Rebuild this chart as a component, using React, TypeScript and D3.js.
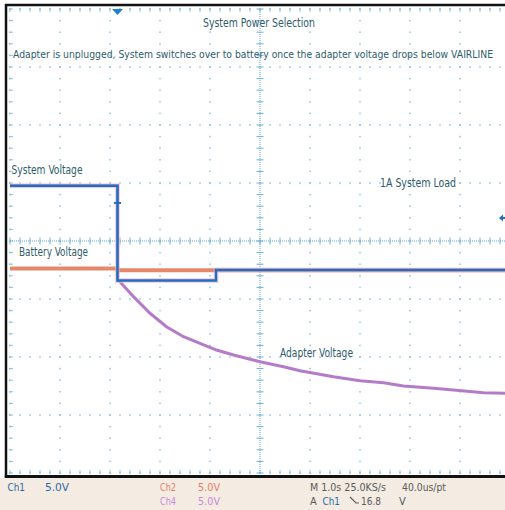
import React from "react";
import * as d3 from "d3";

// Time in seconds (1 s/div), voltages in volts on screen (5 V/div, 0 = screen centre)
const systemT = [0, 2.15, 2.15, 4.12, 4.12, 10];
const systemV = [4.77, 4.77, -3.41, -3.41, -2.5, -2.5];

const batteryT = [0, 2.15, 2.15, 10];
const batteryV = [-2.37, -2.37, -2.53, -2.53];

const adapterT = [0, 2.15, 2.15, 2.2, 2.47, 2.8, 3.13, 3.47, 3.8, 4.13, 4.47, 5.0, 5.47, 5.8, 6.47, 7.0, 7.47, 7.87, 8.47, 8.87, 9.47, 9.9, 10];
const adapterV = [4.77, 4.77, -3.41, -3.51, -4.8, -6.23, -7.39, -8.25, -8.82, -9.4, -9.83, -10.41, -10.84, -11.18, -11.7, -12.04, -12.22, -12.5, -12.7, -12.84, -13.08, -13.13, -13.15];

const triggerT = 2.15;
const triggerMarkV = 3.28;
const triggerLevelV = 1.98;

const title = "System Power Selection";
const subtitle = "Adapter is unplugged, System switches over to battery once the adapter voltage drops below VAIRLINE";
const annotations = [
  { text: "System Voltage", t: 0.03, v: 5.77, w: 71 },
  { text: "Battery Voltage", t: 0.18, v: -1.3, w: 69 },
  { text: "1A System Load", t: 7.4, v: 4.65, w: 76 },
  { text: "Adapter Voltage", t: 5.4, v: -10.0, w: 73 },
];

export default function App() {
  const W = 505, H = 510;
  const x = d3.scaleLinear().domain([0, 10]).range([10, 510]);
  const y = d3.scaleLinear().domain([-20, 20]).range([473, 9]);
  const line = d3.line<[number, number]>().x(d => x(d[0])).y(d => y(d[1]));
  const zip = (a: number[], b: number[]) => a.map((t, i) => [t, b[i]] as [number, number]);

  const dotColor = "#8cc2de";
  const dots: JSX.Element[] = [];
  d3.range(0, 11).forEach(i => {
    if (i === 5) return;
    d3.range(0, 41).forEach(k => {
      dots.push(<rect key={`v${i}-${k}`} x={x(i) - 0.75} y={y(-20 + k) - 0.75} width={1.5} height={1.5} fill={dotColor} />);
    });
  });
  d3.range(0, 9).forEach(j => {
    if (j === 4) return;
    d3.range(0, 51).forEach(k => {
      dots.push(<rect key={`h${j}-${k}`} x={x(k / 5) - 0.75} y={y(-20 + j * 5) - 0.75} width={1.5} height={1.5} fill={dotColor} />);
    });
  });
  const ticks: JSX.Element[] = [];
  d3.range(0, 51).forEach(k => {
    const xx = x(k / 5);
    ticks.push(<line key={`tt${k}`} x1={xx} x2={xx} y1={8} y2={12} stroke={dotColor} strokeWidth={1} />);
    ticks.push(<line key={`tb${k}`} x1={xx} x2={xx} y1={470} y2={474} stroke={dotColor} strokeWidth={1} />);
    ticks.push(<line key={`tc${k}`} x1={xx} x2={xx} y1={y(0) - 3.5} y2={y(0) + 3.5} stroke="#6fb0d4" strokeWidth={1} />);
  });
  d3.range(0, 41).forEach(k => {
    const yy = y(-20 + k);
    ticks.push(<line key={`tl${k}`} x1={9} x2={13} y1={yy} y2={yy} stroke={dotColor} strokeWidth={1} />);
    ticks.push(<line key={`tcv${k}`} x1={x(5) - 3.5} x2={x(5) + 3.5} y1={yy} y2={yy} stroke="#6fb0d4" strokeWidth={1} />);
  });

  const textColor = "#2f5c6b";
  const font = "'Liberation Sans Narrow', 'DejaVu Sans Condensed', 'Liberation Sans', sans-serif";
  const tx = (t: number) => x(t);

  return (
    <svg width={W} height={H} style={{ position: "absolute", left: 0, top: 0 }} fontFamily={font}>
      <rect x={0} y={0} width={W} height={H} fill="#ffffff" />
      <rect x={0} y={478} width={W} height={32} fill="#f4ece2" />
      {dots}
      {ticks}
      <line x1={x(0)} x2={x(10)} y1={y(0)} y2={y(0)} stroke="#5aa8d2" strokeWidth={1} strokeDasharray="1,1" />
      <line x1={x(5)} x2={x(5)} y1={y(-20)} y2={y(20)} stroke="#5aa8d2" strokeWidth={1} strokeDasharray="1,1" />

      {/* frame */}
      <path d={`M6,${H - 32} L6,5 L${W + 5},5`} fill="none" stroke="#111" strokeWidth={2.5} />
      <line x1={4.8} x2={W + 5} y1={476.5} y2={476.5} stroke="#111" strokeWidth={3} />

      {/* traces */}
      <path d={line(zip(adapterT, adapterV)) || ""} fill="none" stroke="#b47cc8" strokeWidth={3} />
      <path d={line(zip(batteryT, batteryV)) || ""} fill="none" stroke="#e5876a" strokeWidth={4} />
      <path d={line(zip(systemT, systemV)) || ""} fill="none" stroke="#f2b4c4" strokeWidth={5} opacity={0.6} />
      <path d={line(zip(systemT, systemV)) || ""} fill="none" stroke="#1f6fc2" strokeWidth={2.5} />
      <line x1={x(triggerT) - 3.5} x2={x(triggerT) + 3.5} y1={y(triggerMarkV)} y2={y(triggerMarkV)} stroke="#1f6fc2" strokeWidth={2} />

      {/* markers */}
      <path d={`M${x(triggerT) - 5.5},9 L${x(triggerT) + 5.5},9 L${x(triggerT)},15 Z`} fill="#2282d2" />
      <path d={`M499,${y(triggerLevelV)} L503,${y(triggerLevelV) - 3.5} L503,${y(triggerLevelV) + 3.5} Z M502,${y(triggerLevelV) - 1} L506,${y(triggerLevelV) - 1} L506,${y(triggerLevelV) + 1} L502,${y(triggerLevelV) + 1} Z`} fill="#1f6fc2" />

      {/* texts */}
      <text x={203} y={27} fontSize={12} fill={textColor} textLength={112} lengthAdjust="spacingAndGlyphs">{title}</text>
      <text x={13} y={58} fontSize={10.5} fill={textColor} textLength={480} lengthAdjust="spacingAndGlyphs">{subtitle}</text>
      {annotations.map(a => (
        <text key={a.text} x={tx(a.t)} y={y(a.v)} fontSize={12} fill={textColor} textLength={a.w} lengthAdjust="spacingAndGlyphs">{a.text}</text>
      ))}

      {/* status bar */}
      <g fontSize={11}>
        <text x={7.5} y={491} fill="#2c6aa8" textLength={17.5} lengthAdjust="spacingAndGlyphs">Ch1</text>
        <text x={45} y={491} fill="#2c6aa8" textLength={24} lengthAdjust="spacingAndGlyphs">5.0V</text>
        <text x={160} y={491} fill="#e57c62" textLength={16} lengthAdjust="spacingAndGlyphs">Ch2</text>
        <text x={198} y={491} fill="#e57c62" textLength={22} lengthAdjust="spacingAndGlyphs">5.0V</text>
        <text x={160} y={505} fill="#c98ad9" textLength={16} lengthAdjust="spacingAndGlyphs">Ch4</text>
        <text x={198} y={505} fill="#c98ad9" textLength={22} lengthAdjust="spacingAndGlyphs">5.0V</text>
        <text x={310} y={491} fill="#5a5a5a" textLength={76} lengthAdjust="spacingAndGlyphs">M 1.0s 25.0KS/s</text>
        <text x={402} y={491} fill="#5a5a5a" textLength={44} lengthAdjust="spacingAndGlyphs">40.0us/pt</text>
        <text x={310} y={505} fill="#5a5a5a">A</text>
        <text x={322.5} y={505} fill="#2c6aa8" textLength={17.5} lengthAdjust="spacingAndGlyphs">Ch1</text>
        <path d="M350,497 L356,503 L359,503" fill="none" stroke="#5a5a5a" strokeWidth={1.1} />
        <text x={361} y={505} fill="#5a5a5a" textLength={20} lengthAdjust="spacingAndGlyphs">16.8</text>
        <text x={399} y={505} fill="#5a5a5a">V</text>
      </g>
    </svg>
  );
}
